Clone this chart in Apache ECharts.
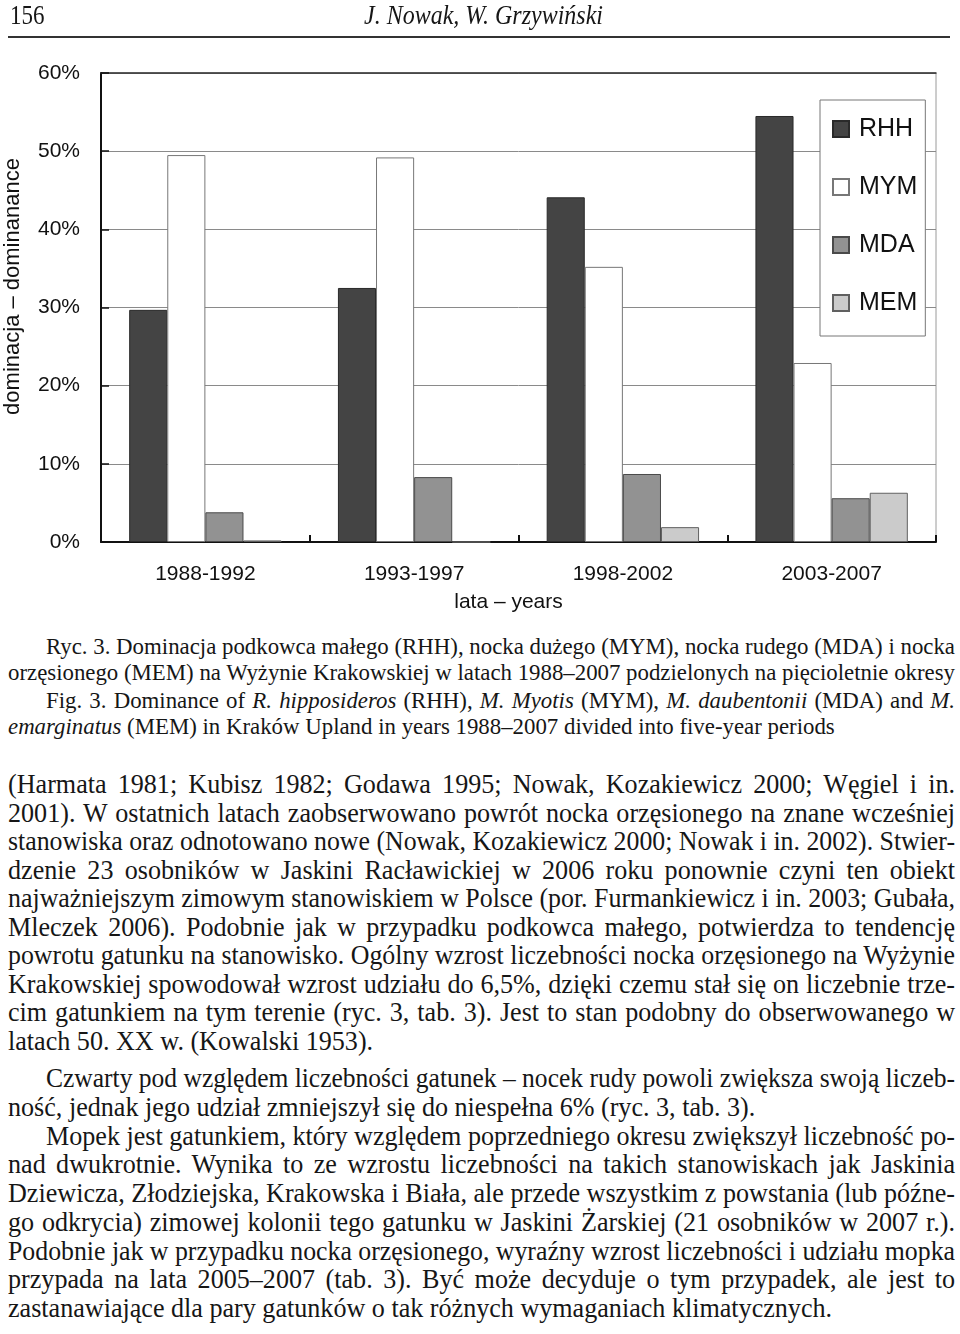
<!DOCTYPE html>
<html>
<head>
<meta charset="utf-8">
<script src="https://cdn.jsdelivr.net/npm/echarts@6.0.0/dist/echarts.min.js"></script>
<style>
  html,body{margin:0;padding:0;background:#fff;}
  body{width:960px;height:1334px;position:relative;overflow:hidden;}
  #chart{position:absolute;left:0;top:0;width:960px;height:625px;}
  .ln{position:absolute;white-space:nowrap;transform-origin:0 0;font-family:'Liberation Serif','DejaVu Serif',serif;color:#161616;line-height:1;}
  .cap{font-size:23.5px;}
  .body{font-size:28px;}
  .hdr{font-size:28px;}
  #rule{position:absolute;left:8px;top:36px;width:942px;height:2px;background:#333;}
</style>
</head>
<body>
<div id="chart"></div>

<div class="ln hdr" style="left:10px;top:1px;" data-s="0.82">156</div>
<div class="ln hdr" style="left:364px;top:1px;font-style:italic;" data-r="603">J. Nowak, W. Grzywiński</div>
<div id="rule"></div>

<div class="ln cap" style="left:46px;top:635px;" data-r="955">Ryc. 3. Dominacja podkowca małego (RHH), nocka dużego (MYM), nocka rudego (MDA) i nocka</div>
<div class="ln cap" style="left:8px;top:661px;" data-r="955">orzęsionego (MEM) na Wyżynie Krakowskiej w latach 1988–2007 podzielonych na pięcioletnie okresy</div>
<div class="ln cap" style="left:46px;top:689px;" data-r="955">Fig. 3. Dominance of <i>R. hipposideros</i> (RHH), <i>M. Myotis</i> (MYM), <i>M. daubentonii</i> (MDA) and <i>M.</i></div>
<div class="ln cap" style="left:8px;top:715px;"><i>emarginatus</i> (MEM) in Kraków Upland in years 1988–2007 divided into five-year periods</div>

<div class="ln body" style="left:8px;top:770px;" data-r="955">(Harmata 1981; Kubisz 1982; Godawa 1995; Nowak, Kozakiewicz 2000; Węgiel i in.</div>
<div class="ln body" style="left:8px;top:798.5px;" data-r="955">2001). W ostatnich latach zaobserwowano powrót nocka orzęsionego na znane wcześniej</div>
<div class="ln body" style="left:8px;top:827px;" data-r="955">stanowiska oraz odnotowano nowe (Nowak, Kozakiewicz 2000; Nowak i in. 2002). Stwier-</div>
<div class="ln body" style="left:8px;top:855.5px;" data-r="955">dzenie 23 osobników w Jaskini Racławickiej w 2006 roku ponownie czyni ten obiekt</div>
<div class="ln body" style="left:8px;top:884px;" data-r="955">najważniejszym zimowym stanowiskiem w Polsce (por. Furmankiewicz i in. 2003; Gubała,</div>
<div class="ln body" style="left:8px;top:912.5px;" data-r="955">Mleczek 2006). Podobnie jak w przypadku podkowca małego, potwierdza to tendencję</div>
<div class="ln body" style="left:8px;top:941px;" data-r="955">powrotu gatunku na stanowisko. Ogólny wzrost liczebności nocka orzęsionego na Wyżynie</div>
<div class="ln body" style="left:8px;top:969.5px;" data-r="955">Krakowskiej spowodował wzrost udziału do 6,5%, dzięki czemu stał się on liczebnie trze-</div>
<div class="ln body" style="left:8px;top:998px;" data-r="955">cim gatunkiem na tym terenie (ryc. 3, tab. 3). Jest to stan podobny do obserwowanego w</div>
<div class="ln body" style="left:8px;top:1026.5px;">latach 50. XX w. (Kowalski 1953).</div>
<div class="ln body" style="left:46px;top:1064px;" data-r="955">Czwarty pod względem liczebności gatunek – nocek rudy powoli zwiększa swoją liczeb-</div>
<div class="ln body" style="left:8px;top:1093px;">ność, jednak jego udział zmniejszył się do niespełna 6% (ryc. 3, tab. 3).</div>
<div class="ln body" style="left:46px;top:1121.5px;" data-r="955">Mopek jest gatunkiem, który względem poprzedniego okresu zwiększył liczebność po-</div>
<div class="ln body" style="left:8px;top:1150px;" data-r="955">nad dwukrotnie. Wynika to ze wzrostu liczebności na takich stanowiskach jak Jaskinia</div>
<div class="ln body" style="left:8px;top:1179px;" data-r="955">Dziewicza, Złodziejska, Krakowska i Biała, ale przede wszystkim z powstania (lub późne-</div>
<div class="ln body" style="left:8px;top:1207.5px;" data-r="955">go odkrycia) zimowej kolonii tego gatunku w Jaskini Żarskiej (21 osobników w 2007 r.).</div>
<div class="ln body" style="left:8px;top:1236.5px;" data-r="955">Podobnie jak w przypadku nocka orzęsionego, wyraźny wzrost liczebności i udziału mopka</div>
<div class="ln body" style="left:8px;top:1265px;" data-r="955">przypada na lata 2005–2007 (tab. 3). Być może decyduje o tym przypadek, ale jest to</div>
<div class="ln body" style="left:8px;top:1294px;">zastanawiające dla pary gatunków o tak różnych wymaganiach klimatycznych.</div>

<script>
// ---- chart data ----
const categories = ['1988-1992', '1993-1997', '1998-2002', '2003-2007'];
const seriesNames = ['RHH', 'MYM', 'MDA', 'MEM'];
const rhh = [29.7, 32.5, 44.1, 54.5];
const mym = [49.5, 49.2, 35.2, 22.9];
const mda = [3.8, 8.3, 8.7, 5.6];
const mem = [0.2, 0, 1.9, 6.3];
const yMin = 0, yMax = 60, yStep = 10;
const xTitle = 'lata – years';
const yTitle = 'dominacja – dominanance';

const sans = "'Liberation Sans', Arial, sans-serif";
const fills = ['#444444', '#ffffff', '#929292', '#cbcbcb'];
const borders = ['#2a2a2a', '#777777', '#4a4a4a', '#606060'];
const values = [rhh, mym, mda, mem];

const chart = echarts.init(document.getElementById('chart'), null, {renderer: 'canvas'});
chart.setOption({
  animation: false,
  backgroundColor: 'transparent',
  grid: {left: 101, right: 24, top: 73, bottom: 83, show: true, borderColor: '#9a9a9a', borderWidth: 1,
         containLabel: false, outerBoundsMode: 'none'},
  legend: {
    orient: 'vertical', left: 820, top: 100,
    data: seriesNames,
    backgroundColor: '#fff', borderColor: '#777', borderWidth: 1,
    padding: [14, 8, 18, 12],
    itemWidth: 16, itemHeight: 16, itemGap: 28,
    icon: 'rect',
    textStyle: {fontSize: 25, fontFamily: sans, color: '#111', lineHeight: 30, padding: [0, 0, 0, 5]}
  },
  xAxis: [{
    type: 'category', data: categories, position: 'bottom',
    axisLine: {lineStyle: {color: '#111', width: 2}},
    axisTick: {show: true, inside: true, length: 7, lineStyle: {color: '#111', width: 2}},
    axisLabel: {fontSize: 21, fontFamily: sans, color: '#111', margin: 22},
    name: xTitle, nameLocation: 'middle', nameGap: 50,
    nameTextStyle: {fontSize: 21, fontFamily: sans, color: '#111', padding: [0, 20, 0, 0]}
  }, {
    type: 'category', data: categories, position: 'top',
    axisLine: {show: true, lineStyle: {color: '#333', width: 1.5}},
    axisTick: {show: false}, axisLabel: {show: false}
  }],
  yAxis: {
    type: 'value', min: yMin, max: yMax, interval: yStep,
    axisLine: {show: true, lineStyle: {color: '#111', width: 2}},
    axisTick: {show: true, inside: true, length: 8, lineStyle: {color: '#111', width: 1.5}},
    splitLine: {lineStyle: {color: '#8a8a8a', width: 1}},
    axisLabel: {formatter: '{value}%', fontSize: 21, fontFamily: sans, color: '#111', margin: 21},
    name: yTitle, nameLocation: 'middle', nameGap: 77,
    nameTextStyle: {fontSize: 22, fontFamily: sans, color: '#111', padding: [0, 0, 0, 42]}
  },
  series: seriesNames.map((n, i) => ({
    name: n, type: 'bar', xAxisIndex: 0,
    data: values[i],
    barGap: '0%', barCategoryGap: '27%',
    itemStyle: {color: fills[i], borderColor: borders[i], borderWidth: 1}
  }))
});

// ---- fit text lines ----
function fit(sel) {
  const els = [...document.querySelectorAll(sel)];
  els.forEach(e => { e.style.transform = 'none'; e.style.wordSpacing = '0px'; e._w = e.getBoundingClientRect().width; e._n = (e.textContent.match(/ /g) || []).length; });
  const ratios = els.filter(e => e.dataset.r).map(e => (+e.dataset.r - e.offsetLeft) / e._w).sort((a, b) => a - b);
  const s0 = ratios.length ? ratios[Math.floor(ratios.length * 0.35)] : 0.85;
  els.forEach(e => {
    let s = e.dataset.s ? +e.dataset.s : s0;
    if (e.dataset.r) {
      const T = +e.dataset.r - e.offsetLeft;
      s = Math.min(s0, T / e._w);
      if (e._n > 0) e.style.wordSpacing = ((T / s - e._w) / e._n) + 'px';
      else s = T / e._w;
    }
    e.style.transform = 'scaleX(' + s + ')';
  });
}
fit('.cap');
fit('.body');
fit('.hdr');
</script>
</body>
</html>
